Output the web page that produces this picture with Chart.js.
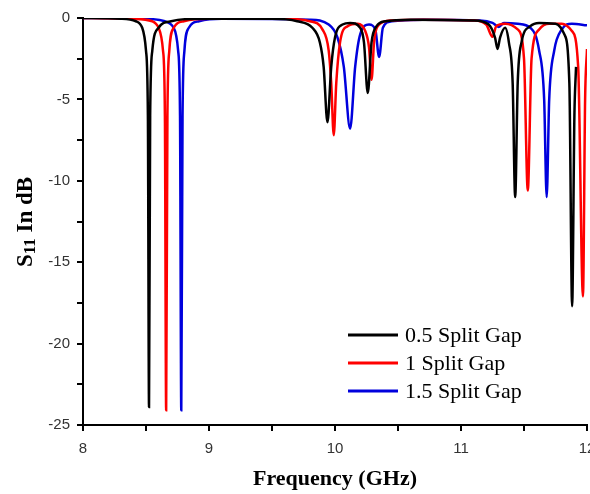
<!DOCTYPE html>
<html>
<head>
<meta charset="utf-8">
<script src="https://cdn.jsdelivr.net/npm/chart.js@4"></script>
<style>
  html, body { margin: 0; padding: 0; background: #fff; }
  #wrap { width: 590px; height: 494px; position: relative; }
</style>
</head>
<body>
<div id="wrap"><canvas id="chart"></canvas></div>
<script>
// series: [frequency GHz, S11 dB]
const gap05 = [
  [8.0, 0], [8.3, -0.05], [8.42, -0.2], [8.47, -0.6], [8.5, -2], [8.515, -6], [8.524, -23.9],
  [8.533, -6], [8.55, -2], [8.6, -0.6], [8.7, -0.2], [8.9, -0.05], [9.5, -0.05], [9.7, -0.2],
  [9.82, -0.6], [9.88, -1.5], [9.91, -3], [9.94, -6.4], [9.97, -3], [10.0, -1.2], [10.06, -0.4],
  [10.12, -0.3], [10.2, -0.6], [10.23, -1.5], [10.26, -4.6], [10.29, -1.5], [10.33, -0.5],
  [10.4, -0.2], [10.6, -0.1], [11.1, -0.15], [11.22, -0.4], [11.27, -1.2], [11.29, -1.9],
  [11.31, -1.2], [11.35, -0.6], [11.38, -1.5], [11.41, -4], [11.43, -11.0], [11.45, -4],
  [11.48, -1.5], [11.55, -0.5], [11.62, -0.3], [11.75, -0.35], [11.82, -1.0], [11.86, -4],
  [11.882, -17.7], [11.9, -6], [11.913, -3]
]
const gap1 = [
  [8.0, 0], [8.4, -0.05], [8.55, -0.2], [8.6, -0.6], [8.635, -2], [8.65, -6], [8.66, -24.1],
  [8.67, -6], [8.685, -2], [8.72, -0.6], [8.8, -0.2], [9.0, -0.05], [9.6, -0.05], [9.8, -0.2],
  [9.9, -0.7], [9.95, -2], [9.97, -4], [9.99, -7.2], [10.01, -4], [10.04, -1.5], [10.1, -0.5],
  [10.18, -0.35], [10.24, -0.8], [10.27, -1.8], [10.29, -3.8], [10.31, -1.5], [10.35, -0.4],
  [10.45, -0.15], [10.7, -0.1], [11.1, -0.15], [11.2, -0.4], [11.25, -1.15], [11.28, -0.5],
  [11.35, -0.35], [11.45, -0.7], [11.5, -2.5], [11.53, -10.6], [11.56, -2.5], [11.62, -0.7],
  [11.7, -0.35], [11.8, -0.35], [11.88, -0.8], [11.93, -3], [11.968, -17.1], [11.985, -5], [12.0, -1.9]
]
const gap15 = [
  [8.0, 0], [8.5, -0.05], [8.65, -0.2], [8.72, -0.6], [8.755, -2], [8.77, -6], [8.78, -24.1],
  [8.79, -6], [8.805, -2], [8.84, -0.6], [8.92, -0.2], [9.1, -0.05], [9.8, -0.1], [9.95, -0.4],
  [10.02, -1.2], [10.07, -3], [10.12, -6.8], [10.16, -3], [10.2, -1.0], [10.27, -0.4],
  [10.32, -0.7], [10.35, -2.4], [10.38, -0.6], [10.45, -0.2], [10.7, -0.1], [11.15, -0.15],
  [11.25, -0.3], [11.3, -0.55], [11.34, -0.3], [11.45, -0.35], [11.55, -0.6], [11.62, -2],
  [11.66, -5], [11.68, -11.0], [11.7, -5], [11.74, -2], [11.8, -0.7], [11.88, -0.35], [12.0, -0.45]
]
const seriesNames = ['0.5 Split Gap', '1 Split Gap', '1.5 Split Gap']
const seriesColors = ['#000000', '#ff0000', '#0000dd']
const xTicks = [8, 9, 10, 11, 12]
const yTicks = [0, -5, -10, -15, -20, -25]

const toPts = arr => arr.map(p => ({ x: p[0], y: p[1] }))
const SERIF = '"Liberation Serif", "Times New Roman", serif'

// axis titles (subscript on S11) and the legend box
const titlePlugin = {
  id: 'titles',
  afterDraw(c) {
    const ctx = c.ctx
    const a = c.chartArea
    ctx.save()
    ctx.fillStyle = '#000'
    ctx.font = 'bold 22px ' + SERIF
    ctx.textAlign = 'center'
    ctx.textBaseline = 'alphabetic'
    ctx.fillText('Frequency (GHz)', (a.left + a.right) / 2, 485)

    // legend
    ctx.textAlign = 'left'
    ctx.font = '22px ' + SERIF
    c.data.datasets.forEach((d, i) => {
      const y = 335 + i * 28
      ctx.strokeStyle = d.borderColor
      ctx.lineWidth = 3
      ctx.beginPath()
      ctx.moveTo(348, y)
      ctx.lineTo(398, y)
      ctx.stroke()
      ctx.fillStyle = '#000'
      ctx.fillText(d.label, 405, y + 7)
    })

    // y title
    ctx.translate(32, 222)
    ctx.rotate(-Math.PI / 2)
    const big = 'bold 23px ' + SERIF
    const small = 'bold 17px ' + SERIF
    ctx.font = big
    const wS = ctx.measureText('S').width
    const rest = ' In dB'
    const wR = ctx.measureText(rest).width
    ctx.font = small
    const w11 = ctx.measureText('11').width
    let x = -(wS + w11 + wR) / 2
    ctx.font = big
    ctx.fillText('S', x, 0)
    x += wS
    ctx.font = small
    ctx.fillText('11', x, 3)
    x += w11
    ctx.font = big
    ctx.fillText(rest, x, 0)
    ctx.restore()
  }
}

const ds = [gap05, gap1, gap15].map((arr, i) => ({
  label: seriesNames[i],
  data: toPts(arr),
  borderColor: seriesColors[i],
  backgroundColor: seriesColors[i],
  borderWidth: 2.5,
  pointRadius: 0,
  cubicInterpolationMode: 'monotone',
  fill: false
}))

new Chart(document.getElementById('chart'), {
  type: 'line',
  data: { datasets: ds },
  plugins: [titlePlugin],
  options: {
    responsive: true,
    maintainAspectRatio: false,
    animation: false,
    layout: { padding: { top: 18, right: 3 } },
    plugins: {
      tooltip: { enabled: false },
      legend: { display: false }
    },
    scales: {
      x: {
        type: 'linear', min: 8, max: 12,
        afterFit: s => { s.height = 69; s.paddingRight = 0 },
        afterBuildTicks: s => { s.ticks = [8, 8.5, 9, 9.5, 10, 10.5, 11, 11.5, 12].map(v => ({ value: v })) },
        border: { display: true, color: '#000', width: 2 },
        grid: { drawOnChartArea: false, drawTicks: true, tickLength: 6, color: '#000', lineWidth: 2 },
        ticks: {
          color: '#333', padding: 9,
          font: { family: '"Liberation Sans", Arial, sans-serif', size: 15 },
          maxRotation: 0,
          callback: v => xTicks.includes(v) ? String(v) : ''
        }
      },
      y: {
        min: -25, max: 0,
        afterFit: s => { s.width = 83 },
        afterBuildTicks: s => { s.ticks = [0, -2.5, -5, -7.5, -10, -12.5, -15, -17.5, -20, -22.5, -25].map(v => ({ value: v })) },
        border: { display: true, color: '#000', width: 2 },
        grid: { drawOnChartArea: false, drawTicks: true, tickLength: 6, color: '#000', lineWidth: 2 },
        ticks: {
          color: '#333', padding: 7,
          font: { family: '"Liberation Sans", Arial, sans-serif', size: 15 },
          callback: v => yTicks.includes(v) ? String(v) : ''
        }
      }
    }
  }
})
</script>
</body>
</html>
